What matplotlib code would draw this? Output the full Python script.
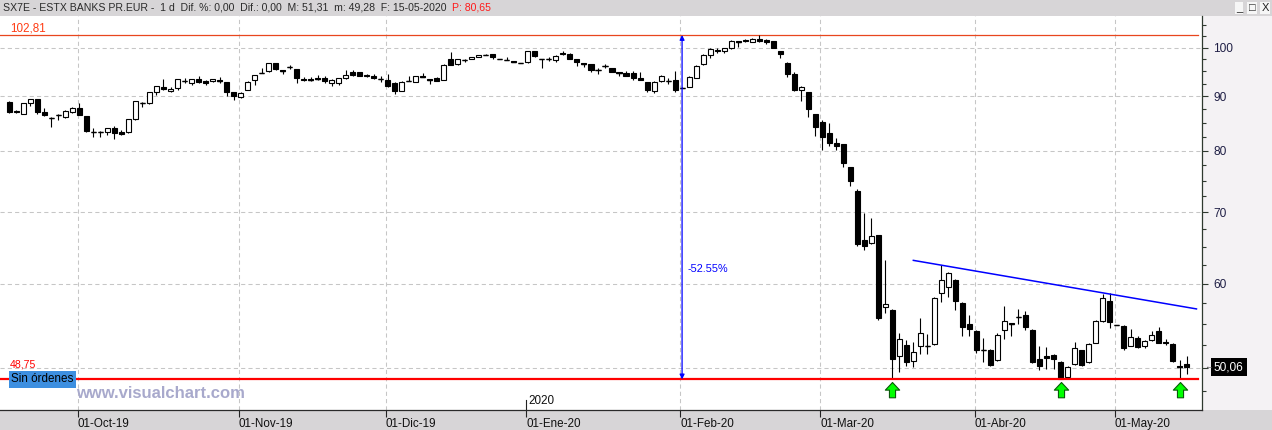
import numpy as np
import matplotlib.pyplot as plt
import matplotlib.ticker as mticker
from matplotlib.patches import Rectangle
from matplotlib.path import Path
from matplotlib.transforms import blended_transform_factory

plt.rcParams['font.family'] = ['Liberation Sans', 'DejaVu Sans']

# daily OHLC, SX7E 17-Sep-2019 .. 15-May-2020
opens = [
    89.0, 87.2, 86.7, 88.7, 89.45, 87.0, 85.95, 86.5, 86.0, 87.0,
    87.7, 86.2, 83.4, 83.4, 83.26, 84.0, 83.4, 83.26, 85.65, 88.8,
    88.8, 90.83, 91.8, 91.0, 91.6, 93.15, 92.75, 93.4, 93.1, 93.0,
    93.2, 92.8, 90.8, 89.95, 91.3, 93.3, 94.65, 95.0, 96.7, 95.2,
    95.9, 95.5, 93.45, 93.45, 93.6, 93.6, 92.75, 92.6, 93.6, 94.8,
    94.8, 94.3, 94.1, 93.5, 93.3, 92.6, 91.1, 93.1, 92.85, 94.0,
    93.4, 93.6, 93.3, 97.55, 96.5, 97.4, 97.6, 98.0, 98.5, 98.65,
    97.6, 97.4, 97.1, 96.7, 96.9, 99.2, 97.6, 97.6, 97.3, 98.8,
    98.7, 97.6, 96.7, 96.5, 95.3, 96.2, 95.7, 94.8, 94.7, 94.7,
    93.7, 92.8, 91.1, 93.1, 93.15, 93.3, 91.75, 91.9, 93.7, 96.5,
    98.4, 99.5, 99.2, 99.9, 101.4, 101.75, 101.25, 102.0, 101.6, 101.4,
    99.35, 96.85, 94.5, 91.3, 90.8, 86.6, 85.1, 83.1, 81.3, 81.2,
    77.2, 73.3, 65.9, 65.45, 66.6, 57.0, 56.7, 51.33, 52.54, 50.7,
    52.38, 52.45, 52.65, 58.8, 59.5, 60.5, 57.5, 55.0, 54.08, 52.0,
    52.0, 50.8, 54.2, 55.05, 55.8, 56.0, 54.3, 50.9, 51.3, 51.4,
    50.67, 49.0, 50.35, 51.9, 50.6, 52.75, 55.3, 57.8, 54.9, 54.75,
    52.45, 53.35, 52.35, 53.1, 54.1, 52.9, 52.6, 50.15, 50.4,
]
highs = [
    89.1, 87.3, 88.8, 89.5, 89.5, 87.8, 86.1, 86.6, 87.3, 88.0,
    88.8, 86.3, 84.0, 83.45, 84.1, 84.4, 83.6, 85.7, 89.2, 88.85,
    90.9, 92.1, 93.5, 91.8, 93.5, 93.75, 93.45, 94.1, 93.2, 93.5,
    93.9, 92.9, 90.85, 90.8, 93.0, 94.35, 95.7, 96.75, 96.75, 95.25,
    96.3, 95.55, 93.9, 93.9, 94.2, 94.1, 93.4, 93.7, 95.2, 95.2,
    94.9, 94.5, 94.4, 94.0, 94.4, 92.9, 93.0, 94.0, 94.05, 94.7,
    93.45, 93.8, 96.5, 99.0, 97.7, 97.7, 98.1, 98.55, 98.6, 98.7,
    97.6, 98.0, 97.15, 96.7, 99.3, 99.25, 97.65, 98.0, 98.5, 99.4,
    98.8, 97.7, 96.75, 96.6, 95.8, 96.6, 95.8, 94.85, 95.1, 95.0,
    94.9, 92.95, 93.0, 94.3, 93.6, 95.0, 91.8, 94.1, 96.3, 98.6,
    99.9, 100.0, 100.0, 101.6, 101.45, 101.9, 102.1, 102.81, 102.0, 101.5,
    99.4, 97.0, 94.8, 92.1, 90.85, 86.65, 85.5, 84.9, 82.2, 81.25,
    77.3, 73.6, 69.96, 69.1, 66.7, 63.2, 56.75, 53.9, 53.1, 52.9,
    55.66, 53.8, 58.3, 62.4, 61.5, 60.6, 57.6, 56.0, 54.2, 53.3,
    52.1, 53.9, 57.1, 55.1, 56.8, 56.5, 54.4, 52.45, 52.3, 51.5,
    50.7, 50.2, 52.9, 52.0, 52.7, 55.4, 58.6, 58.75, 54.9, 54.8,
    54.4, 53.5, 53.1, 54.1, 54.6, 53.2, 52.7, 50.8, 51.31,
]
lows = [
    86.9, 86.8, 86.6, 88.2, 86.6, 86.2, 84.2, 85.5, 85.9, 86.9,
    86.4, 83.4, 82.5, 82.5, 82.8, 82.0, 82.8, 83.2, 85.6, 87.9,
    88.6, 90.3, 91.35, 90.95, 91.2, 92.75, 92.3, 92.75, 92.3, 92.9,
    92.75, 90.1, 89.3, 89.6, 91.2, 92.3, 94.6, 94.9, 95.2, 94.5,
    95.5, 92.75, 93.0, 93.0, 93.2, 92.7, 92.1, 92.3, 93.5, 94.1,
    94.0, 93.9, 93.5, 92.9, 91.9, 90.5, 91.0, 93.05, 92.8, 93.95,
    92.5, 93.0, 93.2, 96.3, 96.4, 97.0, 97.5, 97.95, 98.4, 97.6,
    97.6, 97.35, 96.95, 96.7, 96.8, 98.0, 95.7, 97.2, 96.9, 98.5,
    97.5, 96.2, 95.9, 94.9, 94.5, 95.7, 94.85, 94.0, 94.0, 93.2,
    93.2, 90.9, 90.6, 92.9, 92.4, 90.9, 91.7, 91.8, 93.6, 96.4,
    97.9, 98.9, 98.9, 99.8, 100.1, 101.3, 101.2, 101.3, 100.9, 99.9,
    97.9, 93.8, 91.0, 89.2, 86.1, 82.6, 80.15, 80.8, 80.1, 77.2,
    74.15, 65.1, 64.58, 65.4, 55.5, 56.3, 48.75, 49.5, 50.15, 50.05,
    51.5, 51.5, 52.5, 57.6, 58.25, 56.6, 53.5, 53.5, 51.6, 50.6,
    50.2, 50.7, 53.15, 53.6, 55.0, 54.2, 50.5, 49.7, 49.9, 49.9,
    48.75, 48.9, 50.3, 50.2, 50.5, 52.7, 55.2, 54.45, 54.9, 51.9,
    52.4, 52.2, 52.2, 53.0, 52.7, 52.5, 50.6, 48.8, 49.28,
]
closes = [
    87.1, 86.95, 88.7, 89.45, 87.1, 86.4, 85.9, 86.45, 87.15, 87.7,
    86.5, 83.55, 83.35, 83.35, 84.0, 83.08, 82.95, 85.65, 89.1, 88.75,
    90.8, 92.05, 91.4, 91.5, 93.4, 93.1, 93.4, 92.9, 92.75, 93.4,
    93.15, 90.8, 90.1, 90.6, 92.95, 94.3, 94.6, 96.7, 95.5, 95.15,
    95.85, 93.6, 93.2, 93.35, 93.55, 93.1, 93.3, 93.6, 94.3, 94.3,
    94.1, 94.0, 93.7, 93.45, 92.1, 91.1, 92.95, 93.05, 94.0, 93.95,
    93.35, 93.1, 96.25, 96.35, 97.6, 97.35, 98.0, 98.5, 98.45, 98.0,
    97.6, 97.35, 97.0, 96.7, 99.2, 98.3, 97.55, 97.55, 98.3, 98.6,
    97.6, 96.9, 96.65, 95.2, 95.25, 96.15, 94.9, 94.75, 94.1, 93.6,
    93.3, 91.3, 92.95, 94.0, 93.1, 91.3, 91.7, 93.8, 96.2, 98.5,
    99.8, 99.3, 99.9, 101.5, 101.35, 101.4, 102.0, 101.4, 101.2, 99.95,
    98.6, 94.45, 91.3, 91.8, 87.5, 84.3, 82.5, 81.3, 80.9, 77.85,
    74.95, 65.33, 65.1, 66.5, 55.66, 57.45, 50.9, 53.2, 50.59, 51.78,
    53.93, 52.45, 58.18, 60.5, 61.4, 57.83, 54.6, 54.4, 51.97, 51.95,
    50.3, 53.7, 55.27, 55.0, 55.75, 54.6, 50.67, 50.15, 51.1, 51.0,
    48.8, 50.1, 52.2, 50.3, 52.65, 55.3, 58.2, 55.2, 54.9, 52.2,
    53.4, 52.3, 53.0, 53.7, 52.8, 52.75, 50.7, 50.1, 50.06,
]

month_idx = [10, 33, 54, 74, 96, 116, 138, 158]
month_labels = ['01-Oct-19', '01-Nov-19', '01-Dic-19', '01-Ene-20',
                '01-Feb-20', '01-Mar-20', '01-Abr-20', '01-May-20']
price_ticks = [50, 60, 70, 80, 90, 100]
price_labels = ['', '60', '70', '80', '90', '100']

top_level = 102.81
support = 48.75
last_close = 50.06
measure_idx = 96
measure_label = '-52.55%'
trend_x = [129.0, 169.4]
trend_y = [63.09, 56.79]
signal_idx = [126, 150, 167]

header = ('SX7E - ESTX BANKS PR.EUR -  1 d  Dif. %: 0,00  Dif.: 0,00  '
          'M: 51,31  m: 49,28  F: 15-05-2020')

W, H = 1272, 430
TOP, BOT, RIGHT = 16, 410, 1202


def fx(px):
    return px / W


def fy(py):
    return 1 - py / H


fig = plt.figure(figsize=(W / 100, H / 100), dpi=100)
fig.patch.set_facecolor('#d7d5d7')
ax = fig.add_axes([0, fy(BOT), fx(RIGHT), (BOT - TOP) / H])
fig.add_artist(Rectangle((fx(RIGHT), fy(BOT)), 1 - fx(RIGHT), (BOT - TOP) / H,
                         transform=fig.transFigure, facecolor='#f4f2f4',
                         edgecolor='none', zorder=-1))

# candles
x = np.arange(len(opens))
o, h, l, c = (np.array(v) for v in (opens, highs, lows, closes))
lo, hi = np.minimum(o, c), np.maximum(o, c)
up = c >= o
ax.vlines(x, l, h, color='black', lw=0.8, zorder=3)
ax.bar(x[up], (hi - lo)[up], bottom=lo[up], width=0.72, facecolor='white',
       edgecolor='black', lw=0.8, zorder=4)
ax.bar(x[~up], (hi - lo)[~up], bottom=lo[~up], width=0.72, facecolor='black',
       edgecolor='black', lw=0.8, zorder=4)
flat = (hi - lo) / lo < 0.002
ax.hlines(c[flat], x[flat] - 0.36, x[flat] + 0.36, color='black', lw=1.0, zorder=5)

ax.set_yscale('log')
ax.set_ylim(45.62, 107.13)
ax.set_xlim(-1.33, 170.19)

# grid
for v in price_ticks:
    ax.axhline(v, color='#c6c6c6', lw=0.75, dashes=(4, 3), zorder=1)
for i, lab in zip(month_idx, month_labels):
    if lab != '01-Ene-20':
        ax.axvline(i - 0.25, color='#c6c6c6', lw=0.75, dashes=(4, 3), zorder=1)

# levels, trendline, measure
ax.axhline(top_level, xmax=0.997, color='#e8461e', lw=0.9, zorder=2)
ax.axhline(support, xmax=0.997, color='#ff0000', lw=1.6, zorder=6)
ax.plot(trend_x, trend_y, color='#0000ff', lw=1.1, zorder=5)
ax.annotate('', xy=(measure_idx, top_level), xytext=(measure_idx, support),
            arrowprops=dict(arrowstyle='<|-|>', color='#0000ff', lw=0.9,
                            mutation_scale=7, shrinkA=0, shrinkB=0), zorder=7)
ax.annotate(measure_label, xy=(measure_idx, 61.9), xytext=(3.6, 0),
            textcoords='offset points', color='#0000ff', fontsize=7.8, va='center')

arrow = Path([(0, 0), (0.47, -0.5), (0.2, -0.5), (0.2, -1.0), (-0.2, -1.0),
              (-0.2, -0.5), (-0.47, -0.5), (0, 0)],
             [Path.MOVETO] + [Path.LINETO] * 6 + [Path.CLOSEPOLY])
ax.plot(signal_idx, [support * 0.994] * len(signal_idx), ls='none', marker=arrow,
        ms=22, mfc='#00ff00', mec='#0a5a0a', mew=0.8, zorder=8, clip_on=False)

# axes
ax.yaxis.tick_right()
ax.yaxis.set_major_locator(mticker.FixedLocator(price_ticks))
ax.yaxis.set_major_formatter(mticker.FixedFormatter(price_labels))
minor = [v for v in np.arange(47.5, 106, 2.5) if v % 10 != 0]
ax.yaxis.set_minor_locator(mticker.FixedLocator(minor))
ax.yaxis.set_minor_formatter(mticker.NullFormatter())
ax.tick_params(axis='y', which='major', direction='out', length=4.3, width=0.8,
               color='#2f3a2f', pad=3.8, labelsize=8.6, labelcolor='#1f1f45')
ax.tick_params(axis='y', which='minor', direction='out', length=2.9, width=0.8,
               color='#2f3a2f')
ax.set_xticks([i - 0.25 for i in month_idx])
ax.set_xticklabels(month_labels, ha='left')
ax.tick_params(axis='x', direction='out', length=5, width=0.8, color='#222222',
               pad=0.5, labelsize=8.4, labelcolor='#111111')
for s in ['top', 'left']:
    ax.spines[s].set_visible(False)
ax.spines['bottom'].set_color('#2a2a2a')
ax.spines['right'].set_color('#2f3a2f')
for s in ['bottom', 'right']:
    ax.spines[s].set_linewidth(0.9)

# labels
trans = blended_transform_factory(ax.transAxes, ax.transData)
ax.annotate('102,81', xy=(10 / RIGHT, top_level), xycoords=trans, xytext=(0, 5),
            textcoords='offset points', color='#ff3c14', fontsize=8.4, va='center')
ax.annotate('48,75', xy=(10 / RIGHT, support), xycoords=trans, xytext=(0, 11),
            textcoords='offset points', color='#ff0000', fontsize=7.6, va='center',
            zorder=9)
ax.annotate('Sin órdenes', xy=(11 / RIGHT, support), xycoords=trans, color='black',
            fontsize=8.4, va='center', zorder=10,
            bbox=dict(boxstyle='square,pad=0.2', fc='#3d8fe0', ec='none'))
ax.annotate('50,06', xy=(1, last_close), xycoords=trans, xytext=(8.5, 0),
            textcoords='offset points', color='white', fontsize=8.6, va='center',
            bbox=dict(boxstyle='square,pad=0.25', fc='black', ec='none'),
            annotation_clip=False)
ax.annotate('←', xy=(1, last_close), xycoords=trans, xytext=(1.2, 0),
            textcoords='offset points', color='#555555', fontsize=6.5, va='center',
            annotation_clip=False)

xj = month_idx[3] - 0.25
tr2 = blended_transform_factory(ax.transData, ax.transAxes)
ax.plot([xj, xj], [0, 10 / (BOT - TOP)], transform=tr2, color='#222222', lw=0.8,
        clip_on=False)
ax.annotate('2020', xy=(xj, 9 / (BOT - TOP)), xycoords=tr2, xytext=(1.5, 0),
            textcoords='offset points', fontsize=8.4, color='#111111', va='center')

fig.text(fx(76), fy(394), 'www.visualchart.com', fontsize=12, fontweight='bold',
         color='#a8a9cc', va='center', zorder=5)

# header bar
hdr = fig.text(fx(3), fy(8), header, fontsize=8.5, color='#2b2b2b', va='center')
r = fig.canvas.get_renderer()
w = hdr.get_window_extent(renderer=r).width
hdr.set_fontsize(8.5 * 442 / w)
fig.text(fx(452), fy(8), 'P: 80,65', fontsize=hdr.get_fontsize(), color='#ff1a1a',
         va='center')
for glyph, xc in zip(['_', '□', 'X'], [1239, 1252, 1265]):
    fig.text(fx(xc), fy(8), glyph, ha='center', va='center', fontsize=8,
             color='#222222',
             bbox=dict(boxstyle='square,pad=0.12', fc='#f6f6f6', ec='none'))

fig.savefig('out.png', dpi=100)
